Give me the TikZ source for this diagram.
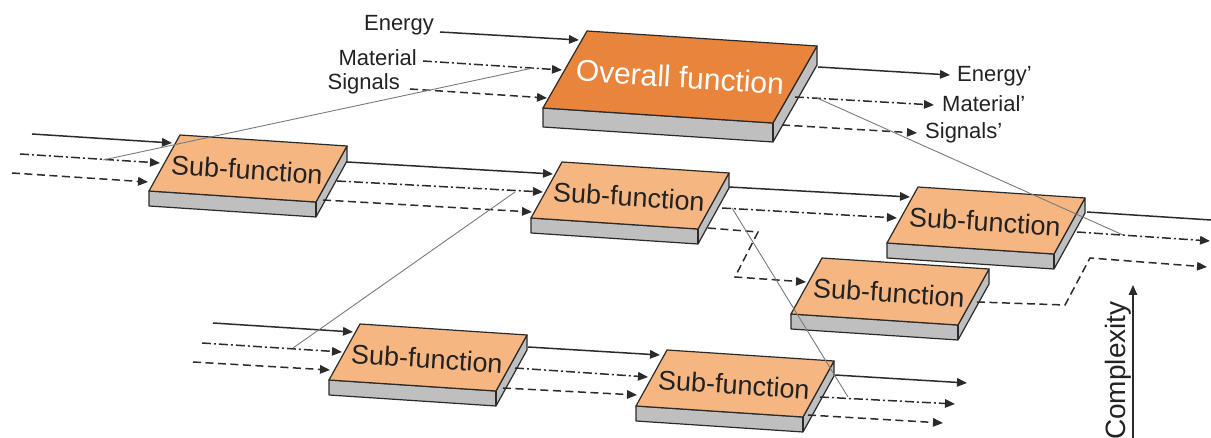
\documentclass[tikz,border=0pt]{standalone}
\usepackage{fontspec}
\setmainfont{Liberation Sans}
\usetikzlibrary{arrows.meta,calc}
\definecolor{ovorange}{HTML}{E8843C}
\definecolor{suborange}{HTML}{F5B682}
\definecolor{sidegray}{HTML}{C0BFC0}
\definecolor{edgec}{HTML}{2A2A2A}
\definecolor{flowc}{HTML}{2B2B2B}
\definecolor{thinc}{HTML}{7A7A7A}
\definecolor{txtc}{HTML}{222222}
\tikzset{
 energy/.style={draw=flowc, line width=1.5pt},
 material/.style={draw=flowc, line width=1.5pt, dash pattern=on 9pt off 3pt on 2pt off 3pt},
 signal/.style={draw=flowc, line width=1.5pt, dash pattern=on 8pt off 4.5pt},
 tip/.style={-{Triangle[length=10pt,width=8.5pt]}},
 decomp/.style={draw=thinc, line width=0.9pt},
 lbl/.style={font=\fontsize{22}{24}\selectfont, text=txtc, inner sep=0pt},
 subtxt/.style={font=\fontsize{27}{30}\selectfont, text=txtc, inner sep=0pt, rotate=-3.8},
 ovtxt/.style={font=\fontsize{30}{32}\selectfont, text=white, inner sep=0pt, rotate=-3.7},
 slabedge/.style={draw=edgec, line width=1.2pt, line join=round},
}
% name, x, y, top dx, top dy, side dx, side dy, thickness, fill
\newcommand\slab[9]{%
 \coordinate (#1-tl) at (#2,#3);
 \coordinate (#1-tr) at ($(#1-tl)+(#4,#5)$);
 \coordinate (#1-bl) at ($(#1-tl)+(#6,#7)$);
 \coordinate (#1-br) at ($(#1-bl)+(#4,#5)$);
 \filldraw[fill=sidegray, slabedge] (#1-bl) -- (#1-br) -- (#1-tr) -- ($(#1-tr)+(0,#8)$) -- ($(#1-br)+(0,#8)$) -- ($(#1-bl)+(0,#8)$) -- cycle;
 \draw[slabedge] (#1-br) -- ($(#1-br)+(0,#8)$);
 \filldraw[fill=#9, slabedge] (#1-tl) -- (#1-tr) -- (#1-br) -- (#1-bl) -- cycle;
}
\begin{document}
\begin{tikzpicture}[x=1pt,y=-1pt]
\useasboundingbox (0,0) rectangle (1211,438);

% ---------- boxes ----------
\slab{ov}{587}{31}{230}{15}{-44}{77}{19}{ovorange}
\slab{s1}{180}{135}{167}{11}{-31}{56}{15}{suborange}
\slab{s2}{562}{162}{167}{11}{-31}{56}{15}{suborange}
\slab{s3}{918}{187}{167}{11}{-31}{56}{15}{suborange}
\slab{s4}{822}{258}{167}{11}{-31}{56}{15}{suborange}
\slab{s5}{360}{324}{167}{11}{-31}{56}{15}{suborange}
\slab{s6}{667}{350}{167}{11}{-31}{56}{15}{suborange}

\node[ovtxt] (ov-t) at ($(ov-tl)!0.5!(ov-br)$) {Overall function};
\foreach \s in {s1,s2,s3,s4,s5,s6}
  \node[subtxt] (\s-t) at ($(\s-tl)!0.5!(\s-br)+(-1,1)$) {Sub-function};

% ---------- labels ----------
\node[lbl, anchor=base east] (lE) at (434,31) {Energy};
\node[lbl, anchor=base east] (lM) at (417,66) {Material};
\node[lbl, anchor=base east] (lS) at (400,90) {Signals};
\node[lbl, anchor=base west] (lE2) at (957,82) {Energy’};
\node[lbl, anchor=base west] (lM2) at (942,112) {Material’};
\node[lbl, anchor=base west] (lS2) at (925,139) {Signals’};
\node[font=\fontsize{28}{30}\selectfont, text=txtc, rotate=90, anchor=base west, inner sep=0pt] (cx-t) at (1125,440) {Complexity};

% ---------- ports ----------
\coordinate (src-e) at (440,32);  \coordinate (ov-ein) at (579,40);
\coordinate (src-m) at (423,61);  \coordinate (ov-min) at (562,70);
\coordinate (src-s) at (410,89);  \coordinate (ov-sin) at (547,98);
\coordinate (ov-eout) at (818,67); \coordinate (dst-e) at (950,75);
\coordinate (ov-mout) at (795,97); \coordinate (dst-m) at (934,105);
\coordinate (ov-sout) at (782,125); \coordinate (dst-s) at (917,133);

\coordinate (l1-e) at (32,134);  \coordinate (s1-ein) at (172,143);
\coordinate (l1-m) at (20,154);  \coordinate (s1-min) at (160,163);
\coordinate (l1-s) at (12,173);  \coordinate (s1-sin) at (148,182);
\coordinate (s1-eout) at (347,162); \coordinate (s1-mout) at (337,181); \coordinate (s1-sout) at (323,200);

\coordinate (s2-ein) at (553,174); \coordinate (s2-min) at (543,192); \coordinate (s2-sin) at (532,212);
\coordinate (s2-eout) at (729,187); \coordinate (s2-mout) at (722,208); \coordinate (s2-sout) at (708,228);

\coordinate (s3-ein) at (910,197); \coordinate (s3-min) at (897,218);
\coordinate (s3-eout) at (1087,212); \coordinate (s3-mout) at (1077,232);
\coordinate (r3-e) at (1211,220); \coordinate (r3-m) at (1210,241); \coordinate (r3-s) at (1207,267);

\coordinate (s4-sin) at (806,282); \coordinate (s4-sout) at (977,302);
\coordinate (b1) at (758,232); \coordinate (b2) at (735,277);
\coordinate (b3) at (1065,305); \coordinate (b4) at (1090,258);

\coordinate (l5-e) at (213,323); \coordinate (s5-ein) at (353,332);
\coordinate (l5-m) at (202,343); \coordinate (s5-min) at (342,352);
\coordinate (l5-s) at (193,362); \coordinate (s5-sin) at (330,370);
\coordinate (s5-eout) at (528,347); \coordinate (s5-mout) at (515,368); \coordinate (s5-sout) at (503,388);

\coordinate (s6-ein) at (660,355); \coordinate (s6-min) at (648,377); \coordinate (s6-sin) at (637,395);
\coordinate (s6-eout) at (835,375); \coordinate (s6-mout) at (820,397); \coordinate (s6-sout) at (808,415);
\coordinate (r6-e) at (967,383); \coordinate (r6-m) at (955,404); \coordinate (r6-s) at (943,423);

\coordinate (t1a) at (103,160); \coordinate (t1b) at (533,68);
\coordinate (t2a) at (817,98);  \coordinate (t2b) at (1123,235);
\coordinate (t3a) at (293,348); \coordinate (t3b) at (515,192);
\coordinate (t4a) at (732,208); \coordinate (t4b) at (848,397);
\coordinate (cx-a) at (1133,440); \coordinate (cx-b) at (1133,285);

% ---------- flows ----------
\draw[energy,tip] (src-e) -- (ov-ein);
\draw[material,tip] (src-m) -- (ov-min);
\draw[signal,tip] (src-s) -- (ov-sin);
\draw[energy,tip] (ov-eout) -- (dst-e);
\draw[material,tip] (ov-mout) -- (dst-m);
\draw[signal,tip] (ov-sout) -- (dst-s);

\draw[energy,tip] (l1-e) -- (s1-ein);
\draw[material,tip] (l1-m) -- (s1-min);
\draw[signal,tip] (l1-s) -- (s1-sin);
\draw[energy,tip] (s1-eout) -- (s2-ein);
\draw[material,tip] (s1-mout) -- (s2-min);
\draw[signal,tip] (s1-sout) -- (s2-sin);
\draw[energy,tip] (s2-eout) -- (s3-ein);
\draw[material,tip] (s2-mout) -- (s3-min);
\draw[signal,tip] (s2-sout) -- (b1) -- (b2) -- (s4-sin);
\draw[energy] (s3-eout) -- (r3-e);
\draw[material,tip] (s3-mout) -- (r3-m);
\draw[signal,tip] (s4-sout) -- (b3) -- (b4) -- (r3-s);

\draw[energy,tip] (l5-e) -- (s5-ein);
\draw[material,tip] (l5-m) -- (s5-min);
\draw[signal,tip] (l5-s) -- (s5-sin);
\draw[energy,tip] (s5-eout) -- (s6-ein);
\draw[material,tip] (s5-mout) -- (s6-min);
\draw[signal,tip] (s5-sout) -- (s6-sin);
\draw[energy,tip] (s6-eout) -- (r6-e);
\draw[material,tip] (s6-mout) -- (r6-m);
\draw[signal,tip] (s6-sout) -- (r6-s);

% ---------- decomposition lines ----------
\draw[decomp] (t1a) -- (t1b);
\draw[decomp] (t2a) -- (t2b);
\draw[decomp] (t3a) -- (t3b);
\draw[decomp] (t4a) -- (t4b);

% ---------- complexity axis ----------
\draw[draw=flowc, line width=1.3pt, -{Triangle[length=10pt,width=8.5pt]}] (cx-a) -- (cx-b);
\end{tikzpicture}
\end{document}
